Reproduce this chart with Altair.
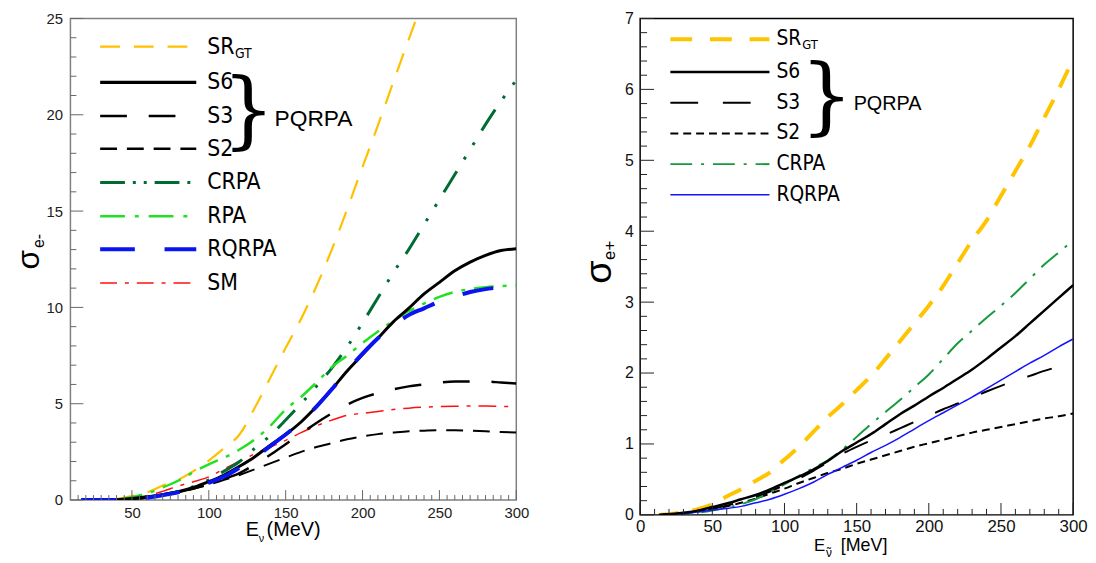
import altair as alt
import pandas as pd

# ---------------- data: left panel (electron neutrino) ----------------
E_L = [17, 20, 30, 40, 50, 60, 70, 80, 90, 100, 110, 120, 130, 140, 150, 160,
       170, 180, 190, 200, 210, 220, 230, 240, 250, 260, 270, 280, 290, 300]
L_S6 = [0, 0, 0, 0.02, 0.08, 0.17, 0.28, 0.43, 0.65, 0.95, 1.3, 1.75, 2.25, 2.85, 3.4, 4.05,
        4.85, 5.75, 6.7, 7.55, 8.4, 9.25, 9.95, 10.7, 11.3, 11.9, 12.35, 12.7, 12.95, 13.05]
L_S3 = [0, 0, 0, 0.02, 0.06, 0.13, 0.25, 0.4, 0.6, 0.82, 1.1, 1.4, 1.85, 2.35, 2.9, 3.45,
        4.0, 4.5, 4.95, 5.3, 5.55, 5.75, 5.9, 6.0, 6.1, 6.15, 6.15, 6.15, 6.1, 6.05]
L_S2 = [0, 0, 0, 0.02, 0.05, 0.12, 0.22, 0.38, 0.58, 0.8, 1.05, 1.3, 1.6, 1.9, 2.2, 2.5,
        2.75, 2.95, 3.15, 3.3, 3.42, 3.5, 3.57, 3.6, 3.62, 3.62, 3.6, 3.57, 3.53, 3.5]
L_SM = [0, 0, 0, 0.03, 0.1, 0.22, 0.45, 0.72, 0.95, 1.2, 1.62, 2.0, 2.4, 2.75, 3.1, 3.5,
        3.85, 4.15, 4.4, 4.5, 4.6, 4.7, 4.77, 4.82, 4.85, 4.87, 4.88, 4.88, 4.86, 4.84]
L_RPA = [0, 0, 0.01, 0.05, 0.15, 0.35, 0.65, 1.0, 1.45, 1.85, 2.2, 2.62, 3.15, 3.85, 4.7, 5.35,
         6.1, 6.9, 7.5, 8.15, 8.75, 9.3, 9.8, 10.2, 10.55, 10.8, 10.95, 11.05, 11.1, 11.15]
L_CRPA = [0, 0, 0, 0.02, 0.07, 0.15, 0.28, 0.45, 0.7, 1.05, 1.5, 2.0, 2.7, 3.35, 4.15, 5.0,
          5.9, 6.85, 7.95, 9.2, 10.5, 11.8, 13.0, 14.3, 15.6, 16.9, 18.2, 19.5, 20.7, 21.8]
E_L_RQ = [17, 20, 30, 40, 50, 60, 70, 80, 90, 100, 110, 120, 130, 140, 150, 160,
          170, 180, 190, 200, 210, 220, 230, 240, 250, 260, 270, 280, 285]
L_RQRPA = [0, 0, 0, 0, 0.03, 0.12, 0.25, 0.4, 0.62, 0.9, 1.22, 1.68, 2.2, 2.8, 3.4, 4.05,
           4.85, 5.75, 6.7, 7.6, 8.4, 9.05, 9.6, 9.95, 10.3, 10.55, 10.8, 10.95, 11.0]
E_L_SR = [17, 20, 30, 40, 50, 60, 70, 80, 90, 100, 110, 120, 130, 140, 150, 160,
          170, 180, 190, 200, 210, 220, 230, 235]
L_SR = [0, 0, 0.01, 0.05, 0.2, 0.4, 0.75, 1.05, 1.5, 2.05, 2.7, 3.4, 4.8, 6.35, 7.9, 9.4,
        11.1, 13.0, 15.1, 17.3, 19.45, 21.7, 23.9, 25.0]

# ---------------- data: right panel (electron antineutrino) ----------------
E_R = [13, 20, 30, 40, 50, 60, 70, 80, 90, 100, 110, 120, 130, 140, 150, 160,
       170, 180, 190, 200, 210, 220, 230, 240, 250, 260, 270, 280, 290, 300]
R_SR = [0, 0.01, 0.04, 0.08, 0.15, 0.26, 0.36, 0.48, 0.6, 0.78, 0.96, 1.17, 1.38, 1.56, 1.76, 1.96,
        2.2, 2.45, 2.7, 2.95, 3.23, 3.55, 3.87, 4.15, 4.5, 4.85, 5.2, 5.6, 6.0, 6.43]
R_S6 = [0, 0.01, 0.03, 0.06, 0.11, 0.16, 0.22, 0.28, 0.36, 0.45, 0.54, 0.64, 0.76, 0.9, 1.02, 1.14,
        1.28, 1.42, 1.54, 1.67, 1.79, 1.92, 2.05, 2.2, 2.36, 2.52, 2.7, 2.88, 3.06, 3.24]
R_S3 = [0, 0.01, 0.02, 0.05, 0.09, 0.13, 0.19, 0.25, 0.33, 0.42, 0.51, 0.62, 0.74, 0.86, 0.96, 1.05,
        1.13, 1.22, 1.31, 1.4, 1.49, 1.57, 1.65, 1.74, 1.82, 1.89, 1.96, 2.03, 2.09, 2.15]
R_S2 = [0, 0.01, 0.02, 0.05, 0.08, 0.12, 0.17, 0.23, 0.3, 0.37, 0.45, 0.52, 0.59, 0.65, 0.72, 0.78,
        0.84, 0.9, 0.96, 1.01, 1.06, 1.11, 1.16, 1.2, 1.24, 1.28, 1.32, 1.36, 1.39, 1.43]
R_CRPA = [0, 0, 0.01, 0.03, 0.06, 0.1, 0.15, 0.22, 0.32, 0.43, 0.55, 0.66, 0.77, 0.92, 1.1, 1.28,
          1.45, 1.62, 1.8, 1.98, 2.2, 2.42, 2.6, 2.78, 2.95, 3.13, 3.33, 3.53, 3.7, 3.87]
R_RQRPA = [0, 0.01, 0.02, 0.04, 0.07, 0.09, 0.12, 0.17, 0.22, 0.29, 0.37, 0.46, 0.57, 0.67, 0.77, 0.88,
           0.98, 1.09, 1.21, 1.33, 1.44, 1.55, 1.66, 1.78, 1.9, 2.02, 2.14, 2.25, 2.37, 2.48]

# tick values
L_XMAJ = [50, 100, 150, 200, 250, 300]
L_XMIN = [v for v in range(15, 300, 5) if v % 50 != 0]
L_YMAJ = [0, 5, 10, 15, 20, 25]
L_YMIN = [v for v in range(1, 25) if v % 5 != 0]
R_XMAJ = [0, 50, 100, 150, 200, 250, 300]
R_XMIN = [v for v in range(10, 300, 10) if v % 50 != 0]
R_YMAJ = [0, 1, 2, 3, 4, 5, 6, 7]
R_YMIN = [round(k * 0.2, 1) for k in range(1, 35) if k % 5 != 0]

ONE = pd.DataFrame({"k": [0]})
SANS = "Liberation Sans"
NARROW = "Liberation Sans Narrow, DejaVu Sans Condensed, Liberation Sans"
BRACE = "DejaVu Serif"


def txt(text, x, y, size, font=SANS, align="left", baseline="middle", angle=None, color="black"):
    kw = dict(text=text, fontSize=size, font=font, align=align, baseline=baseline, color=color)
    if angle is not None:
        kw["angle"] = angle
    return alt.Chart(ONE).mark_text(**kw).encode(x=alt.value(x), y=alt.value(y))


def leg_rule(x0, x1, y, color, width, dash=None):
    kw = dict(color=color, strokeWidth=width, strokeCap="butt")
    if dash:
        kw["strokeDash"] = dash
    return alt.Chart(ONE).mark_rule(**kw).encode(x=alt.value(x0), x2=alt.value(x1), y=alt.value(y))


def panel(series, xs, ys, xaxis, yaxis, W, H, ticks, tick_color):
    layers = []
    for E, V, color, width, dash in series:
        kw = dict(color=color, strokeWidth=width, clip=True, interpolate="monotone", strokeCap="butt")
        if dash:
            kw["strokeDash"] = dash
        df = pd.DataFrame({"E": E, "v": V})
        layers.append(alt.Chart(df).mark_line(**kw).encode(
            x=alt.X("E:Q", scale=xs, axis=xaxis), y=alt.Y("v:Q", scale=ys, axis=yaxis)))
    xmaj, xmin, ymaj, ymin, lxmaj, lxmin, lymaj, lymin = ticks
    for vals, ln in ((xmaj, lxmaj), (xmin, lxmin)):
        layers.append(alt.Chart(pd.DataFrame({"E": vals})).mark_rule(color=tick_color, strokeWidth=1).encode(
            x=alt.X("E:Q", scale=xs, axis=xaxis), y=alt.value(H), y2=alt.value(H - ln)))
    for vals, ln in ((ymaj, lymaj), (ymin, lymin)):
        layers.append(alt.Chart(pd.DataFrame({"v": vals})).mark_rule(color=tick_color, strokeWidth=1).encode(
            y=alt.Y("v:Q", scale=ys, axis=yaxis), x=alt.value(0), x2=alt.value(ln)))
    return layers


# ---------------- left panel ----------------
WL, HL = 450, 486
xs_L = alt.Scale(domain=[10, 300], nice=False, zero=False)
ys_L = alt.Scale(domain=[0, 25], nice=False)
xax_L = alt.Axis(title=None, values=L_XMAJ, ticks=False, domain=False, grid=False, labelFontSize=15,
                 labelFont=SANS, labelColor="#222", labelPadding=6, labelFlush=False)
yax_L = alt.Axis(title=None, values=L_YMAJ, ticks=False, domain=False, grid=False, labelFontSize=15,
                 labelFont=SANS, labelColor="#222", labelPadding=8)

C_SR_L = "#FFC000"
C_CRPA_L = "#006B33"
C_RPA_L = "#22E022"
C_RQ_L = "#0A14F0"
C_SM_L = "#FF1010"

series_L = [
    (E_L_SR, L_SR, C_SR_L, 2.2, [20, 14]),
    (E_L, L_SM, C_SM_L, 1.5, [18, 8, 4, 8]),
    (E_L, L_S2, "black", 2, [17, 10]),
    (E_L, L_S3, "black", 2.5, [27, 22]),
    (E_L, L_CRPA, C_CRPA_L, 3, [25, 14, 3, 14, 3, 14]),
    (E_L, L_RPA, C_RPA_L, 2.5, [20, 9, 4, 9]),
    (E_L, L_S6, "black", 3, None),
    (E_L_RQ, L_RQRPA, C_RQ_L, 4, [35, 30]),
]
layers_L = panel(series_L, xs_L, ys_L, xax_L, yax_L, WL, HL,
                 (L_XMAJ, L_XMIN, L_YMAJ, L_YMIN, 10, 5, 13, 6), "#666")

lx0, lx1, ltx = 30, 127, 138
rows_L = [28.5, 64.5, 98.5, 131.5, 165.5, 199.5, 233, 267]
leg_L = [
    ("SR", C_SR_L, 2.2, [20, 14]),
    ("S6", "black", 3.5, None),
    ("S3", "black", 2.5, [27, 22]),
    ("S2", "black", 2.5, [17, 10]),
    ("CRPA", C_CRPA_L, 3, [25, 8, 3, 8, 3, 8]),
    ("RPA", C_RPA_L, 2.5, [25, 10, 4, 10]),
    ("RQRPA", C_RQ_L, 4, [35, 30]),
    ("SM", C_SM_L, 1.5, [17, 8, 4, 8]),
]
for (lab, col, w, d), yy in zip(leg_L, rows_L):
    layers_L.append(leg_rule(lx0, lx1, yy, col, w, d))
    layers_L.append(txt(lab, ltx, yy, 23, NARROW))
layers_L.append(txt("GT", 166, rows_L[0] + 7, 14, NARROW))
layers_L.append(txt("}", 153, 120.5, 84, BRACE, baseline="alphabetic"))
layers_L.append(txt("PQRPA", 206, 102, 23, SANS))
# axis titles
layers_L.append(txt("σ", -32, 243.5, 32, SANS, align="center", baseline="alphabetic", angle=270))
layers_L.append(txt("e-", -27, 224.5, 16, SANS, align="center", baseline="alphabetic", angle=270))
layers_L.append(txt("E", 177, 522.5, 20, SANS, baseline="alphabetic"))
layers_L.append(txt("ν", 190, 528.5, 11, SANS, baseline="alphabetic"))
layers_L.append(txt("(MeV)", 198, 522.5, 20, SANS, baseline="alphabetic"))

left = alt.layer(*layers_L).properties(
    width=WL, height=HL, view=alt.ViewBackground(stroke="#808080", strokeWidth=1.5))

# ---------------- right panel ----------------
WR, HR = 437, 501
xs_R = alt.Scale(domain=[0, 300], nice=False, zero=False)
ys_R = alt.Scale(domain=[0, 7], nice=False)
xax_R = alt.Axis(title=None, values=R_XMAJ, ticks=False, domain=False, grid=False, labelFontSize=17,
                 labelFont=SANS, labelColor="#111", labelPadding=4, labelFlush=False)
yax_R = alt.Axis(title=None, values=R_YMAJ, ticks=False, domain=False, grid=False, labelFontSize=16,
                 labelFont=SANS, labelColor="#111", labelPadding=7)

C_SR_R = "#FFC400"
C_CRPA_R = "#169A3C"
C_RQ_R = "#1414FF"

series_R = [
    (E_R, R_SR, C_SR_R, 4, [20, 14]),
    (E_R, R_S2, "black", 2, [8, 5]),
    (E_R, R_S3, "black", 2, [26, 24]),
    (E_R, R_CRPA, C_CRPA_R, 2, [22, 9, 3, 9]),
    (E_R, R_RQRPA, C_RQ_R, 1.5, None),
    (E_R, R_S6, "black", 2.5, None),
]
layers_R = panel(series_R, xs_R, ys_R, xax_R, yax_R, WR, HR,
                 (R_XMAJ, R_XMIN, R_YMAJ, R_YMIN, 12, 6, 14, 7), "#222")

rx0, rx1, rtx = 30.5, 130.5, 137.5
rows_R = [21, 54, 85, 116, 147, 178]
leg_R = [
    ("SR", C_SR_R, 4, [22, 18]),
    ("S6", "black", 2.5, None),
    ("S3", "black", 2, [28, 25]),
    ("S2", "black", 2, [8, 5]),
    ("CRPA", C_CRPA_R, 2, [22, 9, 3, 9]),
    ("RQRPA", C_RQ_R, 1.5, None),
]
for (lab, col, w, d), yy in zip(leg_R, rows_R):
    layers_R.append(leg_rule(rx0, rx1, yy, col, w, d))
    layers_R.append(txt(lab, rtx, yy, 21, NARROW))
layers_R.append(txt("GT", 163.5, rows_R[0] + 6, 13, NARROW))
layers_R.append(txt("}", 161.5, 107, 84, BRACE, baseline="alphabetic"))
layers_R.append(txt("PQRPA", 215.5, 86.7, 20, SANS))
layers_R.append(txt("σ", -29.5, 256, 38, SANS, align="center", baseline="alphabetic", angle=270))
layers_R.append(txt("e+", -25.5, 234, 17, SANS, align="center", baseline="alphabetic", angle=270))
layers_R.append(txt("E", 175.5, 537, 17, SANS, baseline="alphabetic"))
layers_R.append(txt("ν", 187.5, 544, 12, SANS, baseline="alphabetic"))
layers_R.append(txt("˜", 190.7, 544, 12, SANS, align="center", baseline="alphabetic"))
layers_R.append(txt("[MeV]", 202.5, 537, 18, SANS, baseline="alphabetic"))

right = alt.layer(*layers_R).properties(
    width=WR, height=HR, view=alt.ViewBackground(stroke="black", strokeWidth=1.5))

chart = alt.hconcat(left, right, spacing=50).properties(
    padding={"left": 4, "top": -1, "right": 0, "bottom": 0}
).configure_view(strokeWidth=1.5)

chart.save("out.html", embed_options={"renderer": "svg", "actions": False})
